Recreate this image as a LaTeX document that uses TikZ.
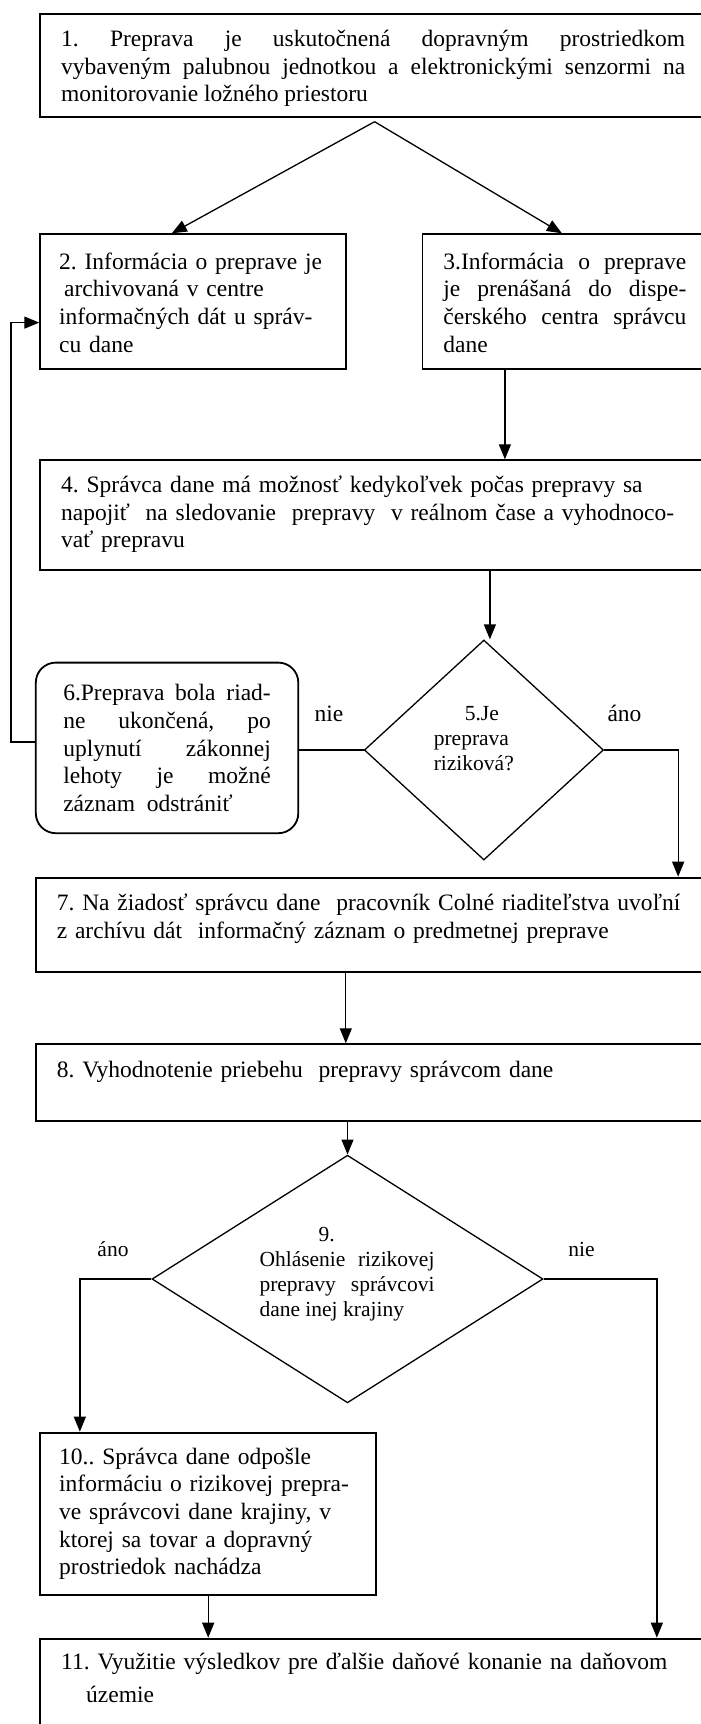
\documentclass[tikz,border=0pt]{standalone}
\usepackage{fontspec}
\setmainfont{Liberation Serif}
\usetikzlibrary{arrows.meta,shapes.geometric}

\newcommand{\bigtxt}{\fontsize{23.5}{27.6}\selectfont}
\newcommand{\smalltxt}{\fontsize{21.5}{25}\selectfont}
\frenchspacing

\begin{document}
\begin{tikzpicture}[
  x=1pt, y=-1pt,
  blk/.style={draw, line width=1.8pt, inner xsep=21pt, inner ysep=0pt, font=\bigtxt, anchor=north west},
  rnd/.style={blk, rounded corners=20pt, inner xsep=27.5pt},
  dmd/.style={draw, diamond, line width=1.3pt, inner sep=0pt},
  dtxt/.style={inner sep=0pt, font=\smalltxt, anchor=base west},
  lbl/.style={inner sep=0pt, anchor=base},
  ln/.style={line width=1.3pt},
  arr/.style={ln, -{Triangle[length=15pt, width=12pt]}},
]
\useasboundingbox (0,0) rectangle (701,1724);

\node [blk, text width=624pt, align=justify, text height=33pt, text depth=70.3pt] (b1) at (39.3,12.7)
  {1. Preprava je uskutočnená dopravným prostriedkom\linebreak vybaveným palubnou jednotkou a elektronickými senzormi na\linebreak monitorovanie ložného priestoru};

\node [blk, inner xsep=19pt, text width=268pt, align=left, text height=35pt, text depth=99.4pt] (b2) at (39.3,233.3)
  {2. Informácia o preprave je\\\hspace*{5pt}archivovaná v centre\\informačných dát u správ-\\cu dane};
\node [blk, text width=243pt, align=justify, text height=35pt, text depth=99.4pt] (b3) at (421.5,233.3)
  {3.Informácia o preprave\linebreak je prenášaná do dispe-\linebreak čerského centra správcu\linebreak dane};

\node [blk, text width=660pt, align=left, text height=32.4pt, text depth=77.6pt] (b4) at (39.3,459.3)
  {4. Správca dane má možnosť kedykoľvek počas prepravy sa\\napojiť\ \ na sledovanie\ \ prepravy\ \ v reálnom čase a vyhodnoco-\\vať prepravu};

\node [dmd, minimum width=239.2pt, minimum height=220pt] (d5) at (483.9,750) {};
\node [dtxt, text width=95pt, align=left] (t5) at (433.6,720) {\hspace*{31pt}5.Je\\preprava\\riziková?};

\node [rnd, text width=207.5pt, align=justify, text height=38.3pt, text depth=132.3pt] (b6) at (34.9,661.7)
  {6.Preprava bola riad-\linebreak ne ukončená, po\linebreak uplynutí zákonnej\linebreak lehoty je možné\linebreak záznam\ \ odstrániť};

\node [blk, text width=660pt, align=left, text height=33.3pt, text depth=60.7pt] (b7) at (34.9,876.7)
  {7. Na žiadosť správcu dane\ \ pracovník Colné riaditeľstva uvoľní\\z archívu dát\ \ informačný záznam o predmetnej preprave};
\node [blk, text width=660pt, align=left, text height=33.4pt, text depth=43.3pt] (b8) at (34.9,1043.3)
  {8. Vyhodnotenie priebehu\ \ prepravy správcom dane};

\node [dmd, minimum width=391pt, minimum height=247.7pt] (d9) at (347.5,1279) {};
\node [dtxt, text width=175pt, align=justify] (t9) at (259.3,1241.7)
  {\hspace*{59pt}9.\\Ohlásenie rizikovej\linebreak prepravy správcovi\linebreak dane inej krajiny};

\node [blk, inner xsep=19pt, text width=298pt, align=left, text height=31.6pt, text depth=130.7pt] (b10) at (39.3,1431.7)
  {10.. Správca dane odpošle\\informáciu o rizikovej prepra-\\ve správcovi dane krajiny, v\\ktorej sa tovar a dopravný\\prostriedok nachádza};
\node [blk, text width=660pt, align=left, text height=30.6pt, text depth=100pt] (b11) at (39.3,1637.7)
  {11. Využitie výsledkov pre ďalšie daňové konanie na daňovom\\[5.8pt]\hspace*{25pt}územie};

\node [lbl, font=\fontsize{23.5}{27}\selectfont] (n5) at (329,721) {nie};
\node [lbl, font=\fontsize{23.5}{27}\selectfont] (a5) at (624.5,721) {áno};
\node [lbl, font=\smalltxt] (a9) at (113,1256.7) {áno};
\node [lbl, font=\smalltxt] (n9) at (581.6,1256.7) {nie};

\coordinate (split) at (374.6,121.7);
\draw [arr] (split) -- ([xshift=-21.4pt]b2.north);
\draw [arr] (split) -- ([xshift=-3pt]b3.north);
\draw [arr] ([xshift=-60pt]b3.south) -- ([xshift=-60pt]b3.south |- b4.north);
\draw [arr] ([xshift=6pt]d5.north |- b4.south) -- ([xshift=6pt]d5.north);
\draw [ln] (d5.west) -- (d5.west -| b6.east);
\draw [arr] ([yshift=6pt]b6.west) -- ++(-24,0) |- ([yshift=-21.2pt]b2.west);
\draw [arr] (d5.east) -- ++(74,0) coordinate (c5) -- (c5 |- b7.north);
\draw [arr] ([xshift=-41pt]b7.south) -- ([xshift=-41pt]b8.north);
\draw [arr] (d9.north |- b8.south) -- (d9.north);
\draw [arr] (d9.west) -- ++(-71.5,0) coordinate (c9a) -- (c9a |- b10.north);
\draw [arr] (d9.east) -- ++(113.2,0) coordinate (c9n) -- (c9n |- b11.north);
\draw [arr] (b10.south) -- (b10.south |- b11.north);

\end{tikzpicture}
\end{document}
